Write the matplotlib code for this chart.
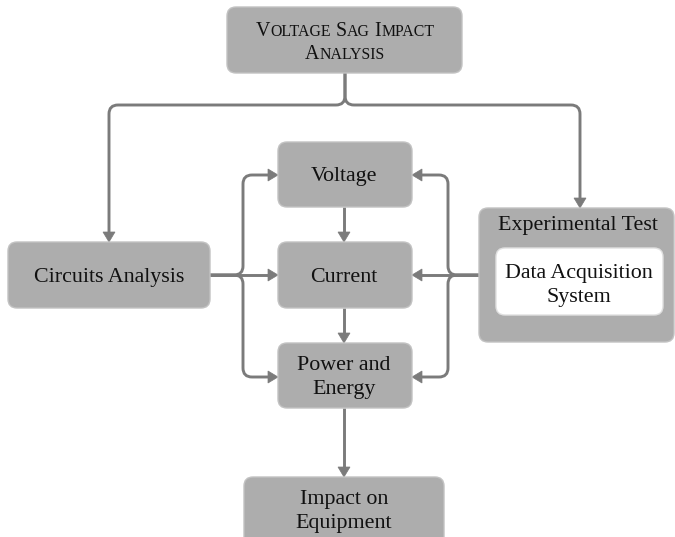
import matplotlib.pyplot as plt
from matplotlib.path import Path
from matplotlib.patches import FancyBboxPatch, PathPatch, Polygon

plt.rcParams['font.family'] = ['Liberation Serif', 'DejaVu Serif']

# box labels
title_lines = ["Voltage Sag Impact", "Analysis"]
node_names = ["circuits", "voltage", "current", "power", "impact", "experimental"]
node_labels = [["Circuits Analysis"], ["Voltage"], ["Current"], ["Power and", "Energy"],
               ["Impact on", "Equipment"], ["Experimental Test"]]
inner_label = ["Data Acquisition", "System"]

# layout in pixels (x0, y0, x1, y1), y down
boxes = {
    "title": (227, 7, 462, 73),
    "circuits": (8, 242, 210, 308),
    "voltage": (278, 142, 412, 207),
    "current": (278, 242, 412, 308),
    "power": (278, 343, 412, 408),
    "impact": (244, 477, 444, 560),
    "experimental": (479, 208, 674, 342),
}
inner = (496, 248, 663, 315)
# text anchor: centre x and baselines of each line
text_pos = {
    "circuits": (109, [282]),
    "voltage": (344, [181]),
    "current": (344, [282]),
    "power": (344, [370, 394]),
    "impact": (344, [504, 528]),
    "experimental": (578, [230]),
}
inner_pos = (579, [278, 302])

FILL = '#adadad'
EDGE = '#c2c2c2'
LINE = '#7b7b7b'
TXT = '#111111'

fig = plt.figure(figsize=(6.75, 5.37), dpi=100)
ax = fig.add_axes([0, 0, 1, 1])
ax.set_xlim(0, 675)
ax.set_ylim(537, 0)
ax.axis('off')


def box(b, fc=FILL, ec=EDGE, r=9):
    x0, y0, x1, y1 = b
    p = FancyBboxPatch((x0 + r, y0 + r), x1 - x0 - 2 * r, y1 - y0 - 2 * r,
                       boxstyle=f"round,pad={r}", fc=fc, ec=ec, lw=1.0,
                       mutation_aspect=1, zorder=2)
    ax.add_patch(p)


def wire(pts, r=9):
    verts = [pts[0]]
    codes = [Path.MOVETO]
    for i in range(1, len(pts) - 1):
        px, py = pts[i]
        ax_, ay = pts[i - 1]
        bx, by = pts[i + 1]
        d1 = ((px - ax_), (py - ay))
        n1 = (d1[0] ** 2 + d1[1] ** 2) ** 0.5
        d2 = ((bx - px), (by - py))
        n2 = (d2[0] ** 2 + d2[1] ** 2) ** 0.5
        s = (px - d1[0] / n1 * r, py - d1[1] / n1 * r)
        e = (px + d2[0] / n2 * r, py + d2[1] / n2 * r)
        verts += [s, (px, py), e]
        codes += [Path.LINETO, Path.CURVE3, Path.CURVE3]
    verts.append(pts[-1])
    codes.append(Path.LINETO)
    ax.add_patch(PathPatch(Path(verts, codes), fc='none', ec=LINE, lw=2.1,
                           capstyle='butt', joinstyle='round', zorder=1))


def head(tip, d, L=10, w=6):
    tx, ty = tip
    dx, dy = d
    bx, by = tx - dx * L, ty - dy * L
    px, py = -dy, dx
    ax.add_patch(Polygon([(tx, ty), (bx + px * w, by + py * w), (bx - px * w, by - py * w)],
                         closed=True, fc=LINE, ec=LINE, lw=0.5, zorder=1))


def arrow(pts, r=9):
    (x1, y1), (x2, y2) = pts[-2], pts[-1]
    n = ((x2 - x1) ** 2 + (y2 - y1) ** 2) ** 0.5
    d = ((x2 - x1) / n, (y2 - y1) / n)
    end = (x2 - d[0] * 9, y2 - d[1] * 9)
    wire(pts[:-1] + [end], r)
    head((x2, y2), d)


# boxes
box(boxes["title"])
for name in node_names:
    box(boxes[name])
box(inner, fc='white', ec='#e0e0e0')

# connectors
arrow([(345, 73), (345, 105), (109, 105), (109, 242)])
arrow([(345, 73), (345, 105), (580, 105), (580, 208)])

arrow([(210, 275), (243, 275), (243, 175), (278, 175)])
arrow([(210, 275), (278, 275)])
arrow([(210, 275), (243, 275), (243, 377), (278, 377)])

arrow([(479, 275), (448, 275), (448, 175), (412, 175)])
arrow([(479, 275), (412, 275)])
arrow([(479, 275), (448, 275), (448, 377), (412, 377)])

arrow([(344, 207), (344, 242)])
arrow([(344, 308), (344, 343)])
arrow([(344, 408), (344, 477)])

# text
fs = 15.8


def label(xc, baselines, lines):
    for yb, s in zip(baselines, lines):
        ax.text(xc, yb, s, ha='center', va='baseline', fontsize=fs, color=TXT, zorder=3)


for name, lines in zip(node_names, node_labels):
    xc, bl = text_pos[name]
    label(xc, bl, lines)
label(inner_pos[0], inner_pos[1], inner_label)

# small caps title
fig.canvas.draw()
renderer = fig.canvas.get_renderer()


def smallcaps(xc, yb, s, big=14.4, small=11.4):
    runs = []
    for word_i, word in enumerate(s.split(' ')):
        if word_i:
            runs.append((' ', big))
        runs.append((word[0].upper(), big))
        if len(word) > 1:
            runs.append((word[1:].upper(), small))
    arts = []
    total = 0
    for txt, size in runs:
        t = ax.text(0, yb, txt, fontsize=size, ha='left', va='baseline', color=TXT, zorder=3)
        wdt = t.get_window_extent(renderer).width
        arts.append((t, wdt))
        total += wdt
    x = xc - total / 2
    for t, wdt in arts:
        t.set_x(x)
        x += wdt


smallcaps(345, 36, title_lines[0])
smallcaps(345, 59, title_lines[1])

fig.savefig('out.png', dpi=100)
